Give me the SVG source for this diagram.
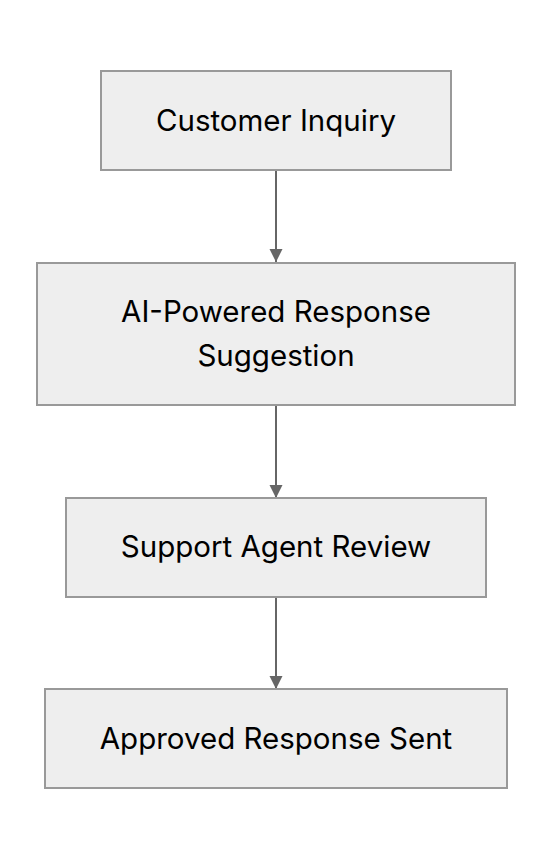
<svg xmlns="http://www.w3.org/2000/svg" width="552" height="860" viewBox="0 0 552 860">
<style>
.box{fill:#eeeeee;stroke:#999999;stroke-width:2}
.lbl{font-family:Inter,"Noto Sans",sans-serif;font-size:29.5px;fill:#000000;text-anchor:middle;dominant-baseline:central}
.edge{stroke:#666666;stroke-width:2;fill:none;marker-end:url(#arr)}
</style>
<defs>
<marker id="arr" markerUnits="userSpaceOnUse" markerWidth="14" markerHeight="14" refX="13" refY="7" orient="auto">
<path d="M0,0.5 L13,7 L0,13.5 z" fill="#666666"/>
</marker>
</defs>
<rect width="552" height="860" fill="#ffffff"/>
<g id="edges">
<line class="edge" x1="276" y1="170" x2="276" y2="262"/>
<line class="edge" x1="276" y1="405" x2="276" y2="498"/>
<line class="edge" x1="276" y1="597" x2="276" y2="689"/>
</g>
<g id="n1"><rect class="box" x="101" y="71" width="350" height="99"/><text class="lbl" x="276" y="120">Customer Inquiry</text></g>
<g id="n2"><rect class="box" x="37" y="263" width="478" height="142"/><text class="lbl" x="276" y="311">AI-Powered Response</text><text class="lbl" x="276" y="355">Suggestion</text></g>
<g id="n3"><rect class="box" x="66" y="498" width="420" height="99"/><text class="lbl" x="276" y="546">Support Agent Review</text></g>
<g id="n4"><rect class="box" x="45" y="689" width="462" height="99"/><text class="lbl" x="276" y="738">Approved Response Sent</text></g>
</svg>
